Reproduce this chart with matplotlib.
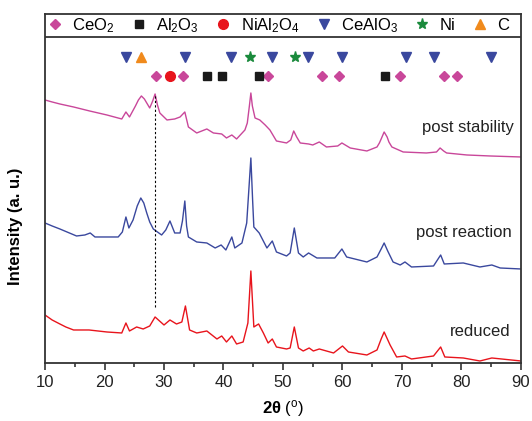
import numpy as np
import matplotlib
matplotlib.use("Agg")
import matplotlib.pyplot as plt
from matplotlib.lines import Line2D

plt.rcParams['font.family'] = ['Liberation Sans', 'DejaVu Sans']
plt.rcParams['mathtext.fontset'] = 'custom'
plt.rcParams['mathtext.rm'] = 'Liberation Sans'
plt.rcParams['mathtext.it'] = 'Liberation Sans:italic'
plt.rcParams['mathtext.bf'] = 'Liberation Sans:bold'

# --- curves (2theta, intensity offset units) ---
stab_x = [10.0, 11.2, 12.5, 14.8, 17.5, 20.4, 22.9, 23.6, 24.2, 25.2, 25.7, 26.2, 26.7, 27.0,
          27.6, 28.1, 28.5, 28.9, 29.3, 30.5, 31.8, 32.7, 33.5, 34.1, 35.5, 37.2, 38.3, 39.7,
          40.5, 41.4, 42.2, 43.6, 44.0, 44.35, 44.6, 44.85, 45.3, 46.1, 47.0, 47.8, 48.9, 50.6,
          51.3, 51.8, 52.3, 52.9, 54.3, 55.0, 56.1, 57.3, 59.2, 59.9, 61.3, 64.1, 65.8, 66.2,
          66.5, 67.0, 67.5, 67.8, 68.3, 70.2, 74.1, 75.8, 76.4, 77.0, 77.5, 80.9, 84.8, 90.0]
stab_y = [261, 259, 257, 254, 250, 246, 242, 249, 244, 255, 261, 265, 262, 259,
          253, 260, 267, 256, 248, 241, 242, 244, 249, 234, 228, 232, 228, 227,
          223, 226, 222, 231, 238, 255, 268, 255, 243, 241, 236, 231, 220, 218,
          221, 230, 224, 218, 217, 216, 219, 214, 215, 218, 213, 210, 214, 218,
          222, 229, 224, 219, 214, 209, 208, 209, 213, 210, 208, 206, 205, 204]

react_x = [10.0, 11.2, 12.5, 15.3, 16.7, 17.6, 18.4, 20.4, 22.3, 23.0, 23.6, 24.1, 24.8, 25.5,
           26.1, 26.6, 27.1, 27.6, 28.2, 29.6, 30.3, 31.0, 31.8, 32.7, 33.1, 33.5, 33.8, 34.1,
           35.5, 37.2, 38.6, 39.6, 40.4, 41.4, 41.9, 43.1, 43.9, 44.3, 44.6, 44.9, 45.1, 46.0,
           47.3, 48.2, 48.9, 50.6, 51.2, 51.9, 52.6, 53.4, 54.3, 55.7, 58.7, 59.9, 60.7, 64.1,
           65.8, 66.5, 67.0, 67.6, 68.5, 69.7, 70.5, 71.6, 75.3, 76.5, 77.1, 80.3, 83.1, 85.1,
           86.5, 90.0]
react_y = [138, 135, 132, 125, 126, 128, 124, 124, 124, 129, 144, 133, 141, 155,
           163, 158, 148, 139, 132, 126, 131, 140, 128, 128, 140, 160, 135, 124,
           119, 118, 113, 116, 111, 124, 113, 118, 138, 175, 203, 160, 134, 128,
           113, 120, 109, 105, 108, 133, 108, 104, 108, 103, 103, 112, 104, 99,
           104, 112, 118, 110, 99, 96, 99, 94, 95, 106, 97, 98, 94, 96,
           93, 92]

red_x = [10.0, 11.2, 12.5, 13.5, 14.8, 17.4, 20.4, 22.9, 23.6, 24.2, 25.4, 26.5, 27.6, 28.5,
         30.0, 31.0, 32.1, 33.0, 33.6, 34.3, 35.5, 37.2, 38.9, 39.7, 40.5, 41.4, 42.2, 43.3,
         44.1, 44.6, 45.1, 45.9, 46.7, 47.5, 48.2, 48.9, 50.6, 51.2, 51.9, 52.6, 53.4, 54.4,
         55.1, 56.1, 58.5, 60.0, 61.0, 64.1, 65.8, 66.5, 67.0, 68.0, 69.1, 70.5, 71.6, 75.3,
         76.5, 77.2, 80.3, 83.1, 85.1, 90.0]
red_y = [46, 41, 37, 34, 31, 31, 29, 28, 38, 30, 34, 32, 35, 44,
         36, 41, 37, 39, 55, 31, 28, 30, 22, 25, 19, 25, 17, 19,
         38, 90, 34, 37, 28, 18, 22, 14, 12, 13, 34, 13, 10, 13,
         10, 12, 8, 15, 9, 6, 11, 22, 29, 16, 4, 5, 2, 5,
         14, 4, 3, 0, 3, 0]

# --- phase reference positions ---
ceo2 = [28.6, 33.2, 47.5, 56.5, 59.4, 69.7, 77.0, 79.2]
al2o3 = [37.2, 39.7, 45.9, 67.1]
nial2o4 = [31.0]
cealo3 = [23.6, 33.5, 41.2, 48.2, 54.2, 59.9, 70.6, 75.4, 85.0]
ni = [44.5, 52.0]
carbon = [26.2]

pink = '#c9479a'
blue = '#3a489e'
red = '#e8141c'

fig = plt.figure(figsize=(5.32, 4.21), dpi=100)
ax = fig.add_axes([0.0846, 0.1378, 0.8947, 0.829])

ax.plot(stab_x, stab_y, color=pink, lw=1.0)
ax.plot(react_x, react_y, color=blue, lw=1.0)
ax.plot(red_x, red_y, color=red, lw=1.0)

ax.plot([28.5, 28.5], [54, 266], color='black', lw=0.8, ls=(0, (2, 2)))

row1, row2 = 304, 285
ax.plot(cealo3, [row1] * len(cealo3), 'v', color=blue, ms=7, ls='none')
ax.plot(carbon, [row1] * len(carbon), '^', color='#f08a1c', ms=7, ls='none')
ax.plot(ni, [row1] * len(ni), '*', color='#1a8a3c', ms=8, ls='none')
ax.plot(ceo2, [row2] * len(ceo2), 'D', color=pink, ms=5.5, ls='none')
ax.plot(nial2o4, [row2] * len(nial2o4), 'o', color=red, ms=7, ls='none')
ax.plot(al2o3, [row2] * len(al2o3), 's', color='#1a1a1a', ms=6, ls='none')

ax.axhline(324, color='#333333', lw=1.3)

handles = [
    Line2D([], [], marker='D', color=pink, ms=5.5, ls='none'),
    Line2D([], [], marker='s', color='#1a1a1a', ms=6, ls='none'),
    Line2D([], [], marker='o', color=red, ms=7, ls='none'),
    Line2D([], [], marker='v', color=blue, ms=7, ls='none'),
    Line2D([], [], marker='*', color='#1a8a3c', ms=8, ls='none'),
    Line2D([], [], marker='^', color='#f08a1c', ms=7, ls='none'),
]
labels = [r'CeO$_2$', r'Al$_2$O$_3$', r'NiAl$_2$O$_4$', r'CeAlO$_3$', 'Ni', 'C']
ax.legend(handles, labels, ncol=6, frameon=False, loc='upper left',
          bbox_to_anchor=(-0.011, 1.013), fontsize=12, handletextpad=0.55,
          columnspacing=0.95, handlelength=1.0, borderaxespad=0)

ax.text(88.8, 233, 'post stability', ha='right', va='center', fontsize=12, color='#222222')
ax.text(88.5, 128, 'post reaction', ha='right', va='center', fontsize=12, color='#222222')
ax.text(88.2, 29, 'reduced', ha='right', va='center', fontsize=12, color='#222222')

ax.set_xlim(10, 90)
ax.set_ylim(-2, 347)
ax.set_xticks(np.arange(10, 91, 10))
ax.set_xticks(np.arange(15, 90, 10), minor=True)
ax.set_yticks([])
ax.tick_params(axis='x', which='major', length=5, width=1.2, labelsize=12, colors='#333333')
ax.tick_params(axis='x', which='minor', length=3, width=1.2, colors='#333333')
ax.tick_params(axis='x', labelcolor='#222222')
for s in ax.spines.values():
    s.set_color('#333333')
    s.set_linewidth(1.3)

ax.set_xlabel(r'2θ $(^{\rm o})$', fontsize=12, fontweight='bold', labelpad=6)
ax.set_ylabel('Intensity (a. u.)', fontsize=12, fontweight='bold')
ax.yaxis.set_label_coords(-0.046, 0.393)

fig.savefig('out.png', dpi=100)
